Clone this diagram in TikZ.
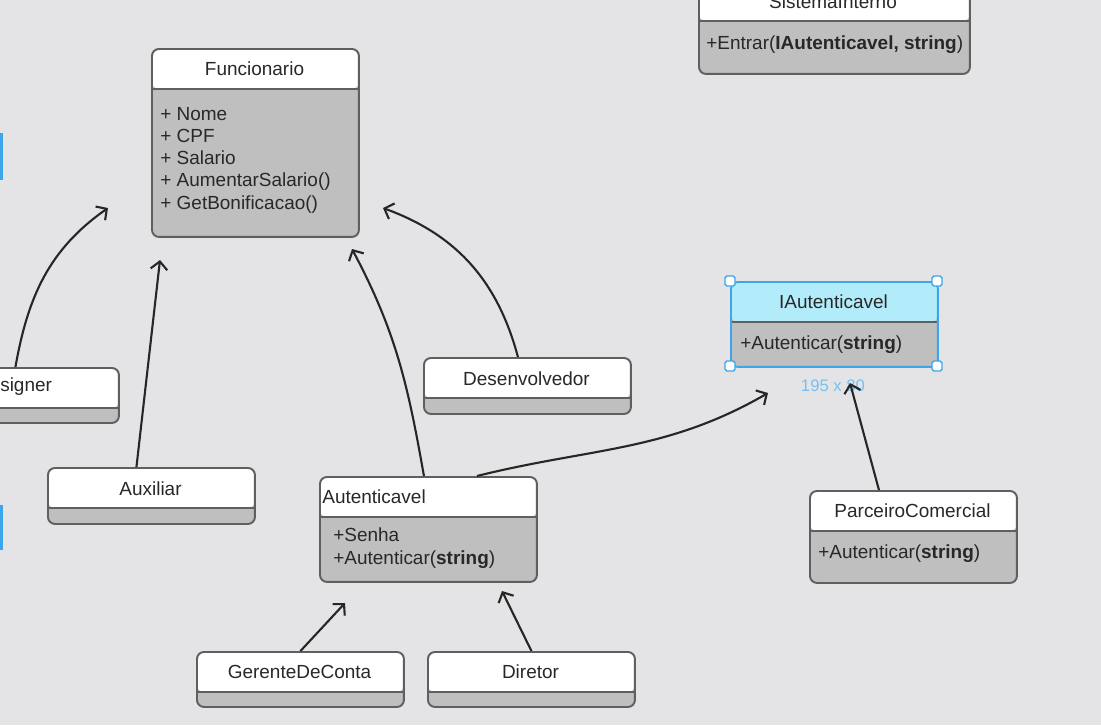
\documentclass[tikz,border=0pt]{standalone}
\usepackage{fontspec}
\setmainfont{Liberation Sans}
\usetikzlibrary{arrows.meta}
\definecolor{canvas}{RGB}{228,228,230}
\definecolor{bodygray}{RGB}{191,191,192}
\definecolor{edgegray}{RGB}{95,95,95}
\definecolor{selblue}{RGB}{60,165,235}
\definecolor{headcyan}{RGB}{178,236,250}
\definecolor{txtgray}{RGB}{40,40,40}
\tikzset{
  umlclass/.style={draw=edgegray, line width=1.1pt, rounded corners=4pt, fill=bodygray, anchor=north west, inner sep=0pt,
    path picture={\fill[#1] (path picture bounding box.north west) rectangle ([yshift=-0.8cm]path picture bounding box.north east);
      \draw[edgegray, line width=1.1pt] ([yshift=-0.8cm]path picture bounding box.north west) -- ([yshift=-0.8cm]path picture bounding box.north east);}},
  umlclass/.default=white,
  ctitle/.style={font=\fontsize{10.8}{12.66}\selectfont, text=txtgray, inner sep=0pt},
  cmembers/.style={ctitle, align=left, anchor=west},
  handle/.style={draw=selblue, fill=white, line width=0.8pt, minimum size=0.2cm, inner sep=0pt, rounded corners=1pt},
  assoc/.style={draw=black!85, line width=1.2pt, -{Straight Barb[length=4.5pt,width=9.5pt]}}
}
\begin{document}
\begin{tikzpicture}[x=0.02cm,y=-0.02cm]
\useasboundingbox (0,0) rectangle (1101,725);
\fill[canvas] (0,0) rectangle (1101,725);
\clip (0,0) rectangle (1101,725);

\fill[selblue] (0,133) rectangle (3,180);
\fill[selblue] (0,505) rectangle (3,550);

\node[umlclass, minimum width=5.42cm, minimum height=1.86cm] (sis) at (698,-20) {};
\node[ctitle] (sisT) at (833,2) {SistemaInterno};
\node[cmembers] (sisM) at (706,45) {+Entrar(\textbf{IAutenticavel, string})};

\node[umlclass, minimum width=4.14cm, minimum height=3.76cm] (fun) at (151,48) {};
\node[ctitle] (funT) at (254.5,69) {Funcionario};
\node[cmembers] (funM) at (160,160) {+ Nome\\+ CPF\\+ Salario\\+ AumentarSalario()\\+ GetBonificacao()};

\node[umlclass, minimum width=4.14cm, minimum height=1.10cm] (des) at (-89,367) {};
\node[ctitle] (desT) at (14,387) {Designer};

\node[umlclass, minimum width=4.14cm, minimum height=1.12cm] (aux) at (47,467) {};
\node[ctitle] (auxT) at (150.5,489) {Auxiliar};

\node[umlclass, minimum width=4.14cm, minimum height=1.12cm] (dev) at (423,357) {};
\node[ctitle] (devT) at (526.5,379) {Desenvolvedor};

\node[umlclass, minimum width=4.34cm, minimum height=2.10cm] (aut) at (319,476) {};
\node[ctitle, anchor=west] (autT) at (322,497) {Autenticavel};
\node[cmembers] (autM) at (333,548) {+Senha\\+Autenticar(\textbf{string})};

\node[umlclass, minimum width=4.14cm, minimum height=1.10cm] (ger) at (196,651) {};
\node[ctitle] (gerT) at (299.5,672) {GerenteDeConta};

\node[umlclass, minimum width=4.14cm, minimum height=1.10cm] (dir) at (427,651) {};
\node[ctitle] (dirT) at (530.5,672) {Diretor};

\node[umlclass=headcyan, draw=selblue, minimum width=4.14cm, minimum height=1.70cm] (iaut) at (730,281) {};
\node[ctitle] (iautT) at (833.5,302) {IAutenticavel};
\node[cmembers] (iautM) at (740,345) {+Autenticar(\textbf{string})};
\node[handle] (h1) at (730,281) {};
\node[handle] (h2) at (937,281) {};
\node[handle] (h3) at (730,366) {};
\node[handle] (h4) at (937,366) {};
\node[ctitle, font=\fontsize{9.5}{11}\selectfont, text=selblue!70] (size) at (833,386) {195 x 80};

\node[umlclass, minimum width=4.14cm, minimum height=1.84cm] (par) at (809,490) {};
\node[ctitle] (parT) at (912.5,511) {ParceiroComercial};
\node[cmembers] (parM) at (818,554) {+Autenticar(\textbf{string})};

\coordinate (t1) at (108,208);
\coordinate (t2) at (160,260);
\coordinate (t3) at (352,249);
\coordinate (t4) at (383,208);
\coordinate (t5) at (768,393);
\coordinate (t6) at (850,383);
\coordinate (t7) at (345,603);
\coordinate (t8) at (502,591);

\draw[assoc] (des.north) to[out=80,in=-145] (t1);
\draw[assoc] ([xshift=-0.3cm]aux.north) -- (t2);
\draw[assoc] ([xshift=-0.09cm]aut.north) to[out=100,in=-62] (t3);
\draw[assoc] ([xshift=-0.19cm]dev.north) to[out=105,in=-20] (t4);
\draw[assoc] ([xshift=0.97cm]aut.north) to[out=14,in=-150] (t5);
\draw[assoc] ([xshift=-0.69cm]par.north) -- (t6);
\draw[assoc] (ger.north) -- (t7);
\draw[assoc] (dir.north) -- (t8);
\end{tikzpicture}
\end{document}
